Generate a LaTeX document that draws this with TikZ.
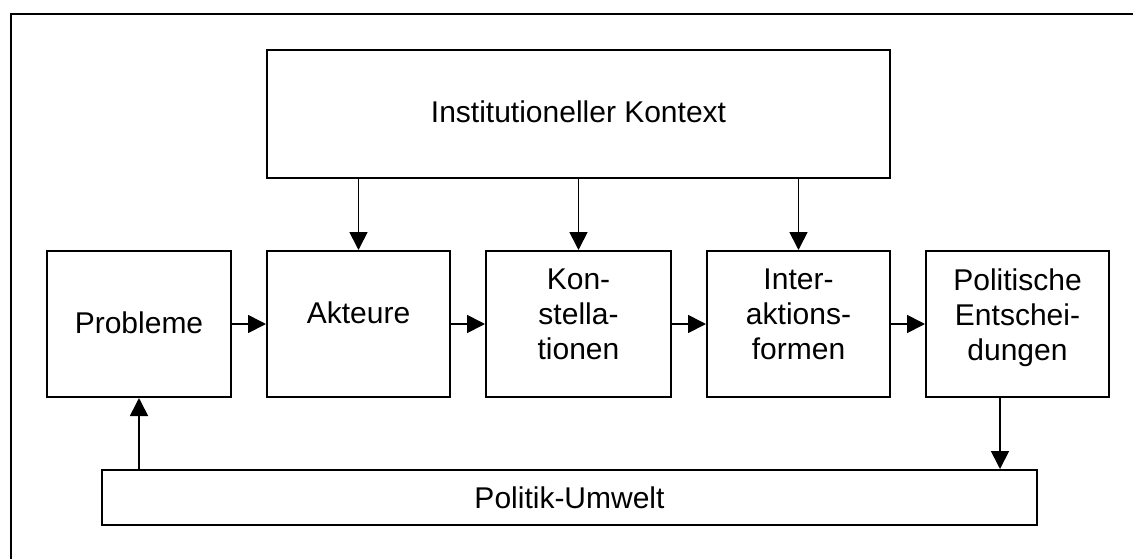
\documentclass[tikz,border=0pt]{standalone}
\usepackage{fontspec}
\setmainfont{Liberation Sans}
\usetikzlibrary{arrows.meta}

\tikzset{
  box/.style={draw, line width=2pt, fill=white, align=center, inner sep=0pt,
    font=\fontsize{30}{35}\selectfont},
  flow/.style={line width=1.7pt, -{Triangle[length=18pt,width=18pt]}},
}

\begin{document}
\begin{tikzpicture}[x=1pt, y=-1pt]
  \useasboundingbox (0,0) rectangle (1133,558);
  \clip (0,0) rectangle (1133,558);

  % outer frame
  \draw[line width=2pt] (11,14) rectangle (1150,575);

  % context box
  \node[box, minimum width=623pt, minimum height=128pt, text depth=5pt]
    (inst) at (578.5,114) {Institutioneller Kontext};

  % chain of stages
  \node[box, minimum width=184pt, minimum height=146pt, text depth=3pt]
    (prob) at (139,324) {Probleme};
  \node[box, minimum width=183pt, minimum height=146pt, text depth=23pt]
    (akt) at (358.5,324) {Akteure};
  \node[box, minimum width=185pt, minimum height=146pt, text depth=19pt]
    (konst) at (578.5,324) {Kon-\\stella-\\tionen};
  \node[box, minimum width=183pt, minimum height=146pt, text depth=19pt]
    (inter) at (798.5,324) {Inter-\\aktions-\\formen};
  \node[box, minimum width=183pt, minimum height=146pt, text depth=19pt]
    (pol) at (1017.5,324) {Politische\\Entschei-\\dungen};

  % environment box
  \node[box, minimum width=935pt, minimum height=55pt]
    (umw) at (569.5,497.5) {Politik-Umwelt};

  % influence of the context
  \draw[flow] (inst.south -| akt.north) -- (akt.north);
  \draw[flow] (inst.south -| konst.north) -- (konst.north);
  \draw[flow] (inst.south -| inter.north) -- (inter.north);

  % stage sequence
  \draw[flow] (prob.east) -- (akt.west);
  \draw[flow] (akt.east) -- (konst.west);
  \draw[flow] (konst.east) -- (inter.west);
  \draw[flow] (inter.east) -- (pol.west);

  % feedback loop through the environment
  \coordinate (polout) at ([xshift=-17.5pt]pol.south);
  \draw[flow] (polout) -- (polout |- umw.north);
  \draw[flow] (umw.north -| prob.south) -- (prob.south);
\end{tikzpicture}
\end{document}
